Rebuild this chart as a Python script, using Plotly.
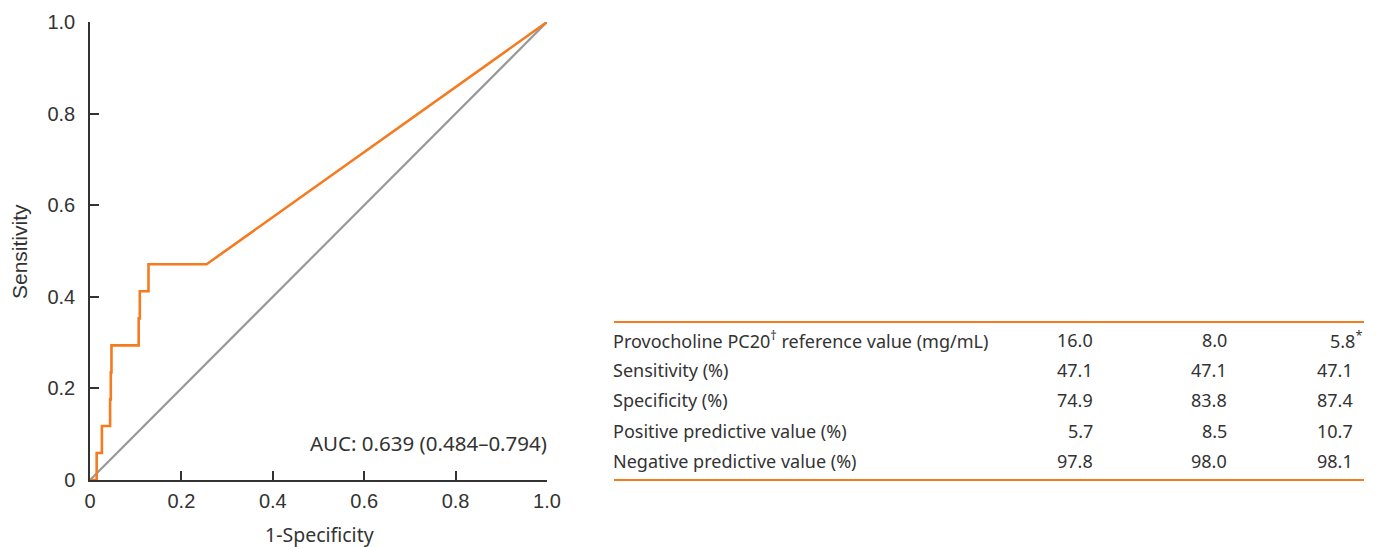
import plotly.graph_objects as go

# ROC curve
fpr = [0, 0.0146, 0.0146, 0.026, 0.026, 0.044, 0.044, 0.0455, 0.0455, 0.047, 0.047,
       0.1065, 0.1065, 0.109, 0.109, 0.128, 0.128, 0.255, 1.0]
tpr = [0, 0, 0.059, 0.059, 0.118, 0.118, 0.176, 0.176, 0.235, 0.235, 0.294,
       0.294, 0.353, 0.353, 0.412, 0.412, 0.471, 0.471, 1.0]
ref_x = [0, 1]
ref_y = [0, 1]
tick_vals = [0, 0.2, 0.4, 0.6, 0.8, 1.0]
tick_text = ["0", "0.2", "0.4", "0.6", "0.8", "1.0"]
auc_text = "AUC: 0.639 (0.484\u20130.794)"
x_title = "1-Specificity"
y_title = "Sensitivity"

# table
row_labels = ["Provocholine PC20<sup>\u2020</sup> reference value (mg/mL)",
              "Sensitivity (%)", "Specificity (%)",
              "Positive predictive value (%)", "Negative predictive value (%)"]
col_16 = ["16.0", "47.1", "74.9", "5.7", "97.8"]
col_8 = ["8.0", "47.1", "83.8", "8.5", "98.0"]
col_58 = ["5.8<sup>*</sup>", "47.1", "87.4", "10.7", "98.1"]

W, H = 1376, 547
ML, MR, MT, MB = 90, 10, 22, 67
PW, PH = W - ML - MR, H - MT - MB

def px(x):
    return (x - ML) / PW

def py(y):
    return (H - MB - y) / PH

ORANGE = "#F47B20"
TXT = "#333333"
FONT = "Noto Sans"
ARIAL = "Liberation Sans"

fig = go.Figure()
fig.add_trace(go.Scatter(x=ref_x, y=ref_y, mode="lines",
                         line=dict(color="#999999", width=2.2), hoverinfo="skip"))
fig.add_trace(go.Scatter(x=fpr, y=tpr, mode="lines",
                         line=dict(color=ORANGE, width=2.6), hoverinfo="skip"))

axis_common = dict(range=[0, 1], tickvals=tick_vals, ticktext=tick_text,
                   ticks="inside", ticklen=9, tickwidth=1.5, tickcolor="#333",
                   showline=True, linecolor="#333", linewidth=1.5,
                   showgrid=False, zeroline=False, automargin=False,
                   tickfont=dict(family=ARIAL, size=20, color=TXT))
fig.update_xaxes(**axis_common, domain=[0, (547 - ML) / PW], ticklabelstandoff=2)
fig.update_yaxes(**axis_common, ticklabelstandoff=9)

ann = []
ann.append(dict(x=px(549), y=py(443), xref="paper", yref="paper", text=auc_text,
                showarrow=False, xanchor="right", yanchor="middle",
                font=dict(family=FONT, size=20.5, color=TXT)))
ann.append(dict(x=px(319), y=py(534), xref="paper", yref="paper", text=x_title,
                showarrow=False, xanchor="center", yanchor="middle",
                font=dict(family=FONT, size=19.5, color=TXT)))
ann.append(dict(x=px(20), y=py(252), xref="paper", yref="paper", text=y_title,
                showarrow=False, xanchor="center", yanchor="middle", textangle=-90,
                font=dict(family=ARIAL, size=21, color=TXT)))

row_y = [340, 370, 400, 431, 461]
for i, yy in enumerate(row_y):
    ann.append(dict(x=px(611), y=py(yy), xref="paper", yref="paper", text=row_labels[i],
                    showarrow=False, xanchor="left", yanchor="middle",
                    font=dict(family=FONT, size=18, color=TXT)))
    ann.append(dict(x=px(1095), y=py(yy), xref="paper", yref="paper", text=col_16[i],
                    showarrow=False, xanchor="right", yanchor="middle",
                    font=dict(family=FONT, size=18, color=TXT)))
    ann.append(dict(x=px(1229), y=py(yy), xref="paper", yref="paper", text=col_8[i],
                    showarrow=False, xanchor="right", yanchor="middle",
                    font=dict(family=FONT, size=18, color=TXT)))
    ann.append(dict(x=px(1364 if i == 0 else 1355), y=py(yy), xref="paper", yref="paper",
                    text=col_58[i], showarrow=False, xanchor="right", yanchor="middle",
                    font=dict(family=FONT, size=18, color=TXT)))

shapes = []
for ly in [322, 480]:
    shapes.append(dict(type="line", xref="paper", yref="paper",
                       x0=px(614), x1=px(1364), y0=py(ly), y1=py(ly),
                       line=dict(color=ORANGE, width=2)))

fig.update_layout(width=W, height=H, margin=dict(l=ML, r=MR, t=MT, b=MB, autoexpand=False),
                  plot_bgcolor="white", paper_bgcolor="white", showlegend=False,
                  annotations=ann, shapes=shapes)

fig.write_html("out.html", config={"displayModeBar": False},
               post_script="document.body.style.margin='0';document.body.style.overflow='hidden';")
